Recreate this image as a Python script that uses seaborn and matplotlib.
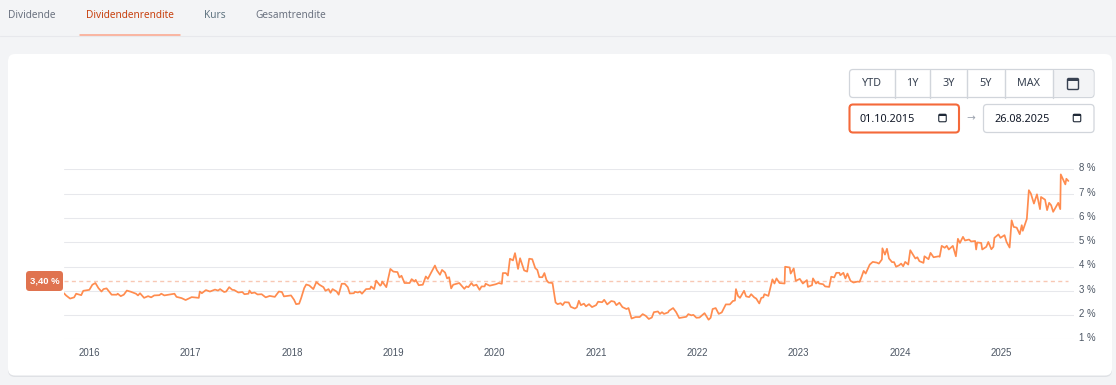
import numpy as np
import pandas as pd
import matplotlib
matplotlib.use('Agg')
import matplotlib.pyplot as plt
from matplotlib.patches import FancyBboxPatch, Rectangle
from matplotlib.transforms import ScaledTranslation
import seaborn as sns

tab_labels = ['Dividende', 'Dividendenrendite', 'Kurs', 'Gesamtrendite']
range_labels = ['YTD', '1Y', '3Y', '5Y', 'MAX']
date_from = '01.10.2015'
date_to = '26.08.2025'
avg_yield = 3.40
avg_label = '3,40 %'
year_ticks = [2016, 2017, 2018, 2019, 2020, 2021, 2022, 2023, 2024, 2025]
pct_ticks = [1, 2, 3, 4, 5, 6, 7, 8]

t_a = [2015.75, 2015.77, 2015.81, 2015.85, 2015.87, 2015.92, 2015.94, 2016.00, 2016.03, 2016.06, 2016.09, 2016.12,
       2016.14, 2016.17, 2016.22, 2016.27, 2016.28, 2016.31, 2016.34, 2016.37, 2016.41, 2016.46, 2016.48, 2016.50,
       2016.54, 2016.58, 2016.61, 2016.64, 2016.69, 2016.71, 2016.74, 2016.84, 2016.86, 2016.91, 2016.95, 2017.01,
       2017.08, 2017.09, 2017.11, 2017.15, 2017.19, 2017.24, 2017.27, 2017.29, 2017.33, 2017.35, 2017.38, 2017.41,
       2017.43, 2017.47, 2017.51, 2017.53, 2017.57, 2017.58, 2017.60, 2017.63, 2017.66, 2017.70, 2017.74, 2017.78,
       2017.83, 2017.87, 2017.90, 2017.92, 2017.99, 2018.02, 2018.04, 2018.07, 2018.09, 2018.12, 2018.14, 2018.17,
       2018.21, 2018.24, 2018.27, 2018.31, 2018.33, 2018.36, 2018.38, 2018.40, 2018.44, 2018.46, 2018.49, 2018.52,
       2018.55, 2018.57, 2018.61, 2018.62, 2018.65, 2018.67, 2018.69, 2018.73, 2018.77, 2018.78, 2018.81, 2018.83,
       2018.87]
y_a = [2.90, 2.81, 2.68, 2.73, 2.88, 2.82, 3.00, 3.04, 3.25, 3.32, 3.11, 2.97,
       3.07, 3.10, 2.84, 2.84, 2.88, 2.78, 2.84, 3.01, 2.96, 2.88, 2.81, 2.90,
       2.71, 2.78, 2.73, 2.81, 2.82, 2.88, 2.81, 2.88, 2.75, 2.70, 2.62, 2.74,
       2.71, 2.97, 2.90, 3.03, 2.97, 3.05, 3.01, 3.07, 2.95, 2.97, 3.15, 3.04,
       3.03, 2.93, 2.95, 2.86, 2.88, 3.01, 2.90, 2.93, 2.85, 2.86, 2.73, 2.79,
       2.75, 2.97, 2.95, 2.77, 2.81, 2.63, 2.45, 2.47, 2.70, 3.11, 3.26, 3.22,
       3.07, 3.36, 3.25, 3.15, 3.00, 3.07, 2.92, 3.07, 2.97, 2.84, 3.29, 3.29,
       3.15, 2.89, 2.90, 2.96, 2.93, 2.97, 2.88, 3.07, 3.08, 3.18, 3.07, 3.42,
       3.21]

t_b = [2018.88, 2018.89, 2018.93, 2018.97, 2019.00, 2019.04, 2019.06, 2019.08, 2019.11, 2019.16, 2019.18, 2019.21,
       2019.22, 2019.25, 2019.29, 2019.32, 2019.34, 2019.37, 2019.41, 2019.43, 2019.46, 2019.48, 2019.51, 2019.53,
       2019.55, 2019.57, 2019.59, 2019.65, 2019.70, 2019.72, 2019.74, 2019.77, 2019.79, 2019.82, 2019.83, 2019.85,
       2019.87, 2019.90, 2019.91, 2019.95, 2020.01, 2020.04, 2020.07, 2020.08, 2020.11, 2020.13, 2020.15, 2020.18,
       2020.20, 2020.23, 2020.25, 2020.29, 2020.32, 2020.34, 2020.37, 2020.40, 2020.42, 2020.44, 2020.47, 2020.49,
       2020.51, 2020.53, 2020.57, 2020.60, 2020.62, 2020.65, 2020.67, 2020.69, 2020.73, 2020.75, 2020.79, 2020.81,
       2020.83, 2020.85, 2020.88, 2020.90, 2020.93, 2020.96, 2021.00, 2021.02, 2021.06, 2021.08, 2021.11, 2021.15,
       2021.18, 2021.20, 2021.23, 2021.26, 2021.30, 2021.32, 2021.35, 2021.39, 2021.43, 2021.46, 2021.49, 2021.52,
       2021.55, 2021.57, 2021.61, 2021.63, 2021.65, 2021.67, 2021.71, 2021.72, 2021.76, 2021.79, 2021.82, 2021.89,
       2021.91, 2021.94, 2021.96, 2021.99, 2022.02, 2022.07, 2022.11, 2022.13, 2022.15, 2022.18, 2022.21, 2022.24,
       2022.28, 2022.32, 2022.35, 2022.37, 2022.38, 2022.40, 2022.42, 2022.46, 2022.48, 2022.51]
y_b = [3.25, 3.38, 3.15, 3.90, 3.79, 3.77, 3.55, 3.62, 3.32, 3.32, 3.48, 3.38,
       3.45, 3.23, 3.25, 3.59, 3.49, 3.73, 4.04, 3.84, 3.66, 3.86, 3.75, 3.51,
       3.56, 3.10, 3.25, 3.32, 3.08, 3.18, 3.15, 3.32, 3.21, 3.25, 3.18, 3.04,
       3.18, 3.18, 3.29, 3.21, 3.27, 3.32, 3.29, 3.73, 3.73, 3.63, 4.32, 4.25,
       4.55, 3.90, 4.34, 3.84, 3.79, 4.32, 4.30, 3.93, 3.86, 3.56, 3.56, 3.73,
       3.45, 3.34, 3.32, 2.52, 2.45, 2.49, 2.41, 2.53, 2.52, 2.34, 2.27, 2.32,
       2.59, 2.41, 2.47, 2.36, 2.45, 2.33, 2.41, 2.55, 2.53, 2.63, 2.44, 2.58,
       2.55, 2.41, 2.51, 2.33, 2.25, 2.29, 1.86, 1.92, 1.92, 2.04, 1.97, 1.84,
       1.90, 2.12, 2.15, 2.05, 2.12, 2.05, 2.11, 2.18, 2.29, 2.12, 1.88, 1.93,
       2.04, 1.99, 2.01, 1.89, 1.90, 2.08, 1.81, 1.89, 2.25, 2.29, 2.05, 2.11,
       2.44, 2.44, 2.58, 2.60, 3.07, 2.79, 2.71, 3.00, 2.77, 2.74]

t_c = [2022.53, 2022.56, 2022.58, 2022.61, 2022.63, 2022.65, 2022.66, 2022.70, 2022.74, 2022.76, 2022.78, 2022.81,
       2022.86, 2022.865, 2022.91, 2022.92, 2022.95, 2022.97, 2023.01, 2023.04, 2023.08, 2023.09, 2023.13, 2023.14,
       2023.17, 2023.19, 2023.20, 2023.24, 2023.26, 2023.30, 2023.32, 2023.35, 2023.37, 2023.40, 2023.41, 2023.44,
       2023.46, 2023.48, 2023.51, 2023.54, 2023.58, 2023.60, 2023.62, 2023.64, 2023.66, 2023.70, 2023.73, 2023.77,
       2023.79, 2023.82, 2023.825, 2023.85, 2023.87, 2023.89, 2023.92, 2023.94, 2023.96, 2023.99, 2024.01, 2024.03,
       2024.05, 2024.08, 2024.10, 2024.13, 2024.15, 2024.17, 2024.19, 2024.23, 2024.24, 2024.28, 2024.30, 2024.33,
       2024.38, 2024.39, 2024.41, 2024.44, 2024.46, 2024.48, 2024.52, 2024.55, 2024.57, 2024.59, 2024.62, 2024.64,
       2024.68, 2024.70, 2024.74, 2024.75, 2024.76, 2024.80, 2024.81, 2024.85, 2024.87, 2024.90, 2024.92, 2024.93,
       2024.97, 2024.99, 2025.03, 2025.05, 2025.08, 2025.10, 2025.12, 2025.15, 2025.18, 2025.20, 2025.21, 2025.25,
       2025.27, 2025.29, 2025.32, 2025.35, 2025.38, 2025.39, 2025.43, 2025.45, 2025.47, 2025.49, 2025.51, 2025.56,
       2025.58, 2025.585, 2025.63, 2025.64, 2025.66]
y_c = [2.86, 2.73, 2.68, 2.48, 2.71, 2.73, 2.86, 2.79, 3.47, 3.30, 3.51, 3.32,
       3.30, 3.99, 3.96, 3.71, 3.92, 3.41, 3.49, 3.30, 3.44, 3.16, 3.23, 3.51,
       3.30, 3.37, 3.30, 3.27, 3.18, 3.16, 3.58, 3.55, 3.74, 3.74, 3.64, 3.74,
       3.51, 3.71, 3.41, 3.34, 3.38, 3.37, 3.58, 3.82, 3.71, 4.08, 4.19, 4.16,
       4.12, 4.29, 4.75, 4.49, 4.73, 4.33, 4.18, 4.18, 3.99, 4.05, 4.12, 4.01,
       4.19, 4.08, 4.67, 4.47, 4.33, 4.38, 4.22, 4.15, 4.42, 4.30, 4.56, 4.38,
       4.42, 4.40, 4.85, 4.77, 4.85, 4.70, 4.85, 4.42, 5.14, 4.97, 5.22, 5.07,
       5.11, 5.03, 5.05, 4.70, 4.99, 4.97, 4.70, 4.81, 5.01, 4.71, 4.81, 5.18,
       5.32, 5.18, 5.29, 5.01, 4.78, 5.90, 5.63, 5.60, 5.33, 5.70, 5.47, 5.96,
       7.14, 7.00, 6.59, 6.97, 6.36, 6.86, 6.75, 6.32, 6.62, 6.52, 6.25, 6.62,
       6.36, 7.79, 7.38, 7.61, 7.52]

W, H = 1116, 385
BG = '#f3f4f6'
GRID = '#e7e8ec'
LINE = '#ff8c4f'
BORDER = '#d1d5db'
UI_FONT = ['Noto Sans', 'DejaVu Sans']
CHART_FONT = ['Liberation Sans', 'DejaVu Sans']

sns.set_theme(style='white')
plt.rcParams['font.family'] = UI_FONT

df = pd.DataFrame({'year': np.concatenate([t_a, t_b, t_c]),
                   'pct': np.concatenate([y_a, y_b, y_c])})

fig = plt.figure(figsize=(W / 100, H / 100), dpi=100, facecolor=BG)

# page chrome, drawn in pixel coordinates
ui = fig.add_axes([0, 0, 1, 1], zorder=1)
ui.set_xlim(0, W)
ui.set_ylim(H, 0)
ui.axis('off')


def box(x0, y0, x1, y1, r=5, fc='white', ec='none', lw=1.0, z=1):
    ui.add_patch(FancyBboxPatch((x0 + r, y0 + r), x1 - x0 - 2 * r, y1 - y0 - 2 * r,
                                boxstyle=f'round,pad={r},rounding_size={r}',
                                fc=fc, ec=ec, lw=lw, zorder=z))


def calendar(cx, cy, w, h, color, lw, top=0.28):
    box(cx - w / 2, cy - h / 2, cx + w / 2, cy + h / 2, r=1.2, fc='none', ec=color, lw=lw, z=4)
    ui.add_patch(Rectangle((cx - w / 2, cy - h / 2), w, h * top, fc=color, ec='none', zorder=4))


# tabs
ui.plot([0, W], [35.5, 35.5], color=GRID, lw=0.8)
ui.plot([80, 180], [34.7, 34.7], color='#fca48a', lw=1.1, zorder=3)
for x, s, c in zip([8, 86, 204, 255], tab_labels, ['#6b7280', '#c8410f', '#5f7380', '#6b7280']):
    ui.text(x, 15.5, s, fontsize=7.25, color=c, va='center', ha='left', fontweight=500)

# card
box(8, 55, 1112, 377, r=7, fc='#dfe1e5')
box(8, 54, 1112, 375.5, r=7, fc='white')

# range buttons
box(849.5, 69.5, 1094, 97.5, r=3.5, fc='white', ec=BORDER, lw=0.9, z=2)
box(1053, 70, 1093.5, 97, r=3, fc=BG, z=2)
for x in [894.5, 929.8, 967.3, 1004.5, 1053]:
    ui.plot([x, x], [69.5, 97.5], color=BORDER, lw=1.0, zorder=3)
for x, s in zip([872, 912.5, 948.5, 986, 1029], range_labels):
    ui.text(x, 84, s, fontsize=7.8, color='#374151', ha='center', va='center', fontweight=500, zorder=4)
calendar(1073, 84, 11, 11, '#374151', 1.0, top=0.22)

# date inputs
box(849.5, 104.5, 959, 132.5, r=3.5, fc='white', ec='#f4693a', lw=1.5, z=2)
box(983.5, 104.5, 1094, 132.5, r=3.5, fc='white', ec=BORDER, lw=0.9, z=2)
ui.text(860, 119, date_from, fontsize=7.8, color='#111827', va='center', zorder=4)
ui.text(994, 119, date_to, fontsize=7.8, color='#111827', va='center', zorder=4)
ui.text(971, 118.5, '\u2192', fontsize=7.5, color='#9ca3af', ha='center', va='center',
        family=['DejaVu Sans'], zorder=4)
calendar(942.5, 118, 7.5, 7.5, '#1f2937', 0.8)
calendar(1077, 118, 7.5, 7.5, '#1f2937', 0.8)

# chart
ax = fig.add_axes([64 / W, 1 - 339.4 / H, (1074 - 64) / W, (339.4 - 169.3) / H], zorder=2)
ax.patch.set_alpha(0)
sns.lineplot(data=df, x='year', y='pct', color=LINE, lw=1.25, ax=ax, zorder=3,
             estimator=None, sort=False)
ax.plot([2015.75, 2025.66], [avg_yield, avg_yield], color='#f8c8b4', lw=1.0,
        dashes=(2.9, 2.4), zorder=2)
ax.set_xlim(2015.75, 2015.75 + (1074 - 64) / 101.35)
ax.set_ylim(1, 8)
ax.set_xticks(year_ticks)
ax.set_yticks(pct_ticks)
ax.set_yticklabels([f'{p} %' for p in pct_ticks])
ax.set_xlabel('')
ax.set_ylabel('')
ax.yaxis.tick_right()
ax.grid(axis='y', color=GRID, lw=0.75, zorder=0)
ax.grid(axis='x', visible=False)
ax.tick_params(axis='x', length=0, pad=6, labelsize=6.9, labelcolor='#4b5563')
ax.tick_params(axis='y', length=0, pad=3.5, labelsize=6.9, labelcolor='#4b5563')
for lab in ax.get_xticklabels() + ax.get_yticklabels():
    lab.set_family(CHART_FONT)
shift = ScaledTranslation(0, 1.5 / 72, fig.dpi_scale_trans)
for lab in ax.get_yticklabels():
    lab.set_transform(lab.get_transform() + shift)
sns.despine(ax=ax, left=True, right=True, top=True, bottom=True)

# average badge
box(26, 271, 63, 291, r=3.5, fc='#e0734f', z=5)
ui.text(44.5, 281, avg_label, fontsize=6.8, color='white', fontweight='bold', ha='center', va='center',
        family=CHART_FONT, zorder=6)

fig.savefig('out.png', dpi=100, facecolor=BG)
